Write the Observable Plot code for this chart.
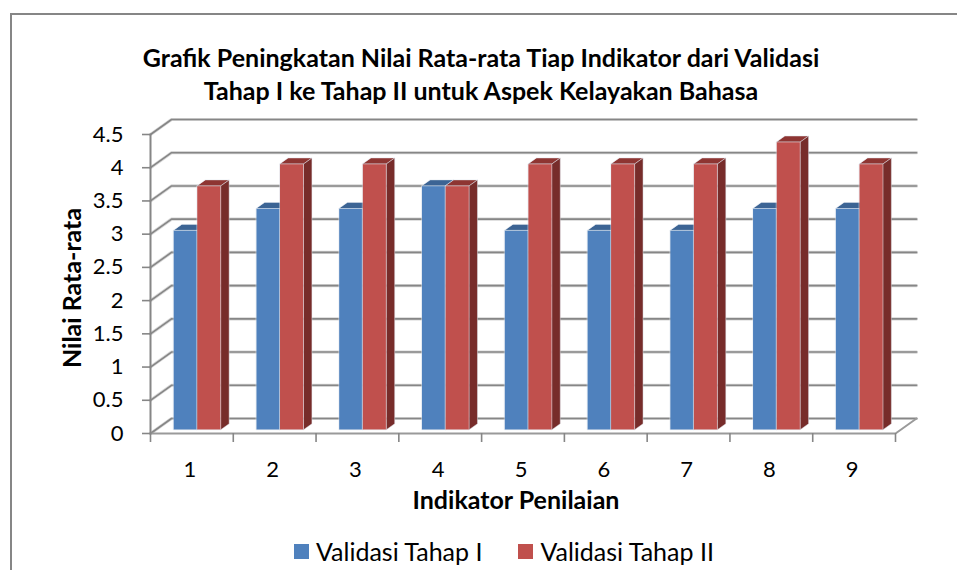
<!DOCTYPE html>
<html><head><meta charset="utf-8">
<script src="https://cdn.jsdelivr.net/npm/d3@7"></script>
<script src="https://cdn.jsdelivr.net/npm/@observablehq/plot@0.6"></script>
<style>
html,body{margin:0;background:#fff;overflow:hidden}
body{width:957px;height:570px;position:relative;font-family:Lato,sans-serif;color:#000}
#frame{position:absolute;left:10px;top:13px;width:960px;height:600px;border:2px solid #868686;box-sizing:border-box}
#title{position:absolute;left:0;top:41px;width:962px;text-align:center;font-weight:700;font-size:25px;line-height:33px}
#chart{position:absolute;left:0;top:0}
#legend{position:absolute;left:294px;top:536px;display:flex;gap:36px;font-size:25px;line-height:30px;white-space:nowrap}
#legend span{display:flex;align-items:center;gap:7px}
#legend i{display:inline-block;width:15px;height:15px}
</style></head><body>
<div id="frame"></div>
<div id="chart"></div>
<div id="title">Grafik Peningkatan Nilai Rata-rata Tiap Indikator dari Validasi<br>Tahap I ke Tahap II untuk Aspek Kelayakan Bahasa</div>
<div id="legend"></div>
<script>
const indikator = [1,2,3,4,5,6,7,8,9];
const tahap1 = [3,3.33,3.33,3.67,3,3,3,3.33,3.33];
const tahap2 = [3.67,4,4,3.67,4,4,4,4.33,4];
const yTicks = [0,0.5,1,1.5,2,2.5,3,3.5,4,4.5];
const seriesNames = ["Validasi Tahap I","Validasi Tahap II"];
const xEdges = [0.5,1.5,2.5,3.5,4.5,5.5,6.5,7.5,8.5,9.5];

// oblique projection in data units
const DX = 21/82.67, DY = 15/66.44;
const P = (x,y,t) => ({x: x + DX*t, y: y + DY*t});
const halfW = 0.285, t0 = 0.25, t1 = 0.65;

const grid = yTicks.flatMap(v => [P(0.5,v,0),P(0.5,v,1),P(9.5,v,1)].map(p => ({...p,id:"g"+v})));
const floor = [P(0.5,0,0),P(9.5,0,0),P(9.5,0,1)].map(p=>({...p,id:"f"}));
const spine = [P(0.5,0,0),P(0.5,4.5,0)].map(p=>({...p,id:"s"}));

const faces = [];
function bar(cat, val, lo, hi, c){
  const id = cat+"-"+lo;
  const add = (k,pts,fill) => pts.forEach(p=>faces.push({...p,id:id+k,fill}));
  add("top",[P(cat+lo,val,t0),P(cat+hi,val,t0),P(cat+hi,val,t1),P(cat+lo,val,t1)],c[1]);
  add("side",[P(cat+hi,0,t0),P(cat+hi,0,t1),P(cat+hi,val,t1),P(cat+hi,val,t0)],c[2]);
  add("front",[P(cat+lo,0,t0),P(cat+hi,0,t0),P(cat+hi,val,t0),P(cat+lo,val,t0)],c[0]);
}
const blue = ["#4f81bd","#3c6494","#3c6494"], red = ["#c0504d","#8e3532","#772c2a"];
indikator.forEach((c,i)=>{
  bar(c,tahap1[i],-halfW,0,blue);
  bar(c,tahap2[i],0,halfW,red);
});

const plot = Plot.plot({
  width:957, height:570,
  marginLeft:150, marginRight:62, marginTop:134, marginBottom:137,
  style:{background:"transparent",fontFamily:"Lato,sans-serif",color:"#000",overflow:"visible"},
  x:{type:"linear",domain:[0.5,9.5]},
  y:{type:"linear",domain:[0,4.5]},
  marks:[
    Plot.line(grid,{x:"x",y:"y",z:"id",stroke:"#b5b5b5",strokeWidth:3.2,strokeOpacity:0.55}),
    Plot.line(grid,{x:"x",y:"y",z:"id",stroke:"#868686",strokeWidth:1.6}),
    Plot.line(floor,{x:"x",y:"y",z:"id",stroke:"#9a9a9a",strokeWidth:2}),
    Plot.line(faces,{x:"x",y:"y",z:"id",fill:"fill",stroke:"#dfe5ee",strokeWidth:0.8,strokeOpacity:0.6,curve:"linear-closed"}),
    Plot.line(spine,{x:"x",y:"y",z:"id",stroke:"#868686",strokeWidth:2}),
    Plot.axisY({ticks:yTicks,tickFormat:d=>String(d),tickSize:8,tickPadding:19,fontSize:22,stroke:"#868686",strokeWidth:1.6,label:null}),
    Plot.axisX({ticks:xEdges,tickFormat:()=>"",tickSize:9,stroke:"#868686",strokeWidth:1.6,label:null}),
    Plot.axisX({ticks:indikator,tickFormat:d=>String(d),tickSize:0,tickPadding:28,fontSize:22,label:null,dx:-2}),
    Plot.text(["Indikator Penilaian"],{frameAnchor:"bottom",dy:75,fontSize:25,fontWeight:700,dx:-7}),
    Plot.text(["Nilai Rata-rata"],{frameAnchor:"left",textAnchor:"middle",rotate:-90,dx:-78,dy:4,fontSize:25,fontWeight:700})
  ]
});
document.getElementById("chart").append(plot);
const swatches = ["#4f81bd","#c0504d"];
document.getElementById("legend").innerHTML = seriesNames.map((n,i)=>`<span><i style="background:${swatches[i]}"></i>${n}</span>`).join("");
</script></body></html>
